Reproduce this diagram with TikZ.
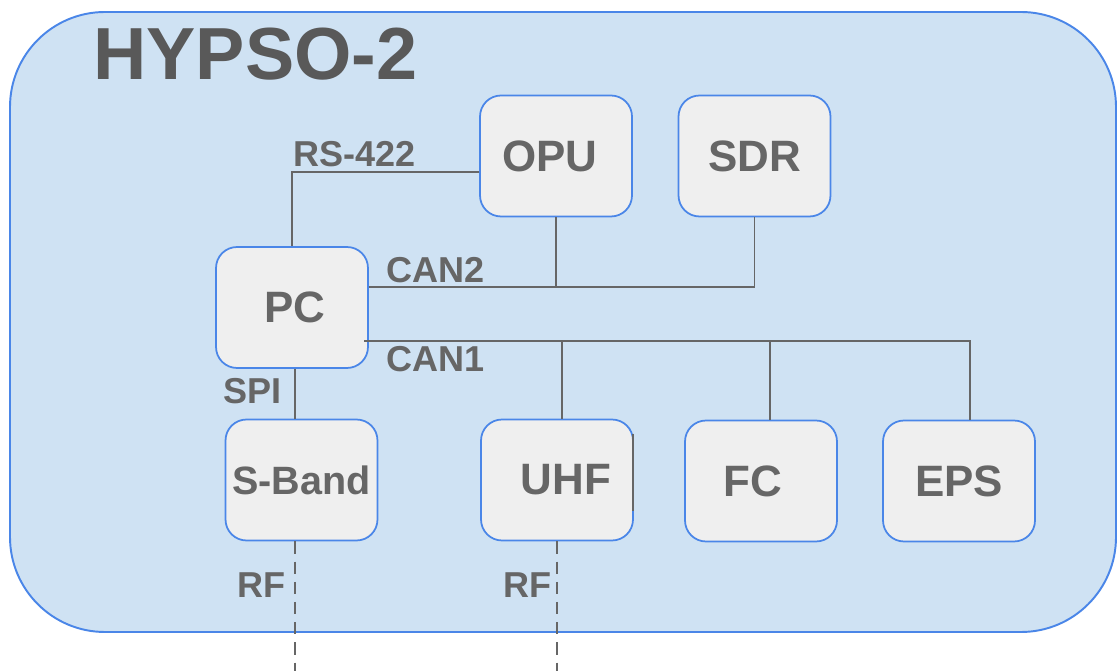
\documentclass[tikz,border=0pt]{standalone}
\usepackage{fontspec}
\setmainfont{Liberation Sans}
\usetikzlibrary{calc,positioning}
\definecolor{satfill}{HTML}{CFE2F3}
\definecolor{satedge}{HTML}{4A86E8}
\definecolor{boxfill}{HTML}{EFEFEF}
\definecolor{inkgray}{HTML}{666666}
\definecolor{titlegray}{HTML}{595959}
\newcommand{\boxfont}{\bfseries\fontsize{25}{30}\selectfont}
\newcommand{\busfont}{\bfseries\fontsize{20.5}{24}\selectfont}

\begin{document}
\begin{tikzpicture}[x=0.02cm, y=-0.02cm,
	unit/.style={draw=satedge, line width=1pt, fill=boxfill, rounded corners=0.42cm,
		minimum width=3.04cm, minimum height=2.42cm, inner sep=0pt,
		text=inkgray, font=\boxfont},
	bus/.style={draw=inkgray, line width=1pt},
	rflink/.style={bus, dash pattern=on 7pt off 4.5pt},
	buslabel/.style={anchor=base west, inner sep=0pt, text=inkgray, font=\busfont}]
	\useasboundingbox (0,0) rectangle (1118,671);
	% satellite outline
	\draw[satedge, line width=1.1pt, fill=satfill, rounded corners=1.9cm] (10,12) rectangle (1116,632);
	\node[anchor=base west, inner sep=0pt, text=titlegray, font=\bfseries\fontsize{42}{48}\selectfont] (title) at (93,80) {HYPSO-2};
	% subsystems
	\node[unit] (opu) at (556,156) {\hspace*{-0.24cm}OPU};
	\node[unit] (sdr) at (754.5,156) {SDR};
	\node[unit] (pc) at (292,307.5) {\hspace*{0.12cm}PC};
	\node[unit, font=\bfseries\fontsize{22.5}{27}\selectfont] (sband) at (301.5,480) {S-Band};
	\node[unit] (uhf) at (557,480) {\hspace*{0.36cm}UHF};
	\node[unit] (fc) at (761,481) {FC\hspace*{0.32cm}};
	\node[unit] (eps) at (959,481) {\raisebox{-0.16cm}{EPS}};
	\draw[bus] ([xshift=-0.02cm,yshift=-0.3cm]uhf.north east) -- ([xshift=-0.02cm,yshift=0.6cm]uhf.south east);
	% buses
	\coordinate (rsjoin) at (293,172);
	\coordinate (can2) at (368,287);
	\coordinate (can1) at (364,341);
	\draw[bus] (opu.west |- rsjoin) -| (pc.north);
	\draw[bus] (pc.east |- can2) -| (sdr.south);
	\draw[bus] (opu.south) -- (opu.south |- can2);
	\draw[bus] (can1) -| ([xshift=0.22cm]eps.north);
	\draw[bus] ([xshift=0.1cm]uhf.north |- can1) -- ([xshift=0.1cm]uhf.north);
	\draw[bus] ([xshift=0.18cm]fc.north |- can1) -- ([xshift=0.18cm]fc.north);
	\draw[bus] ([xshift=0.06cm]pc.south) -- ([xshift=0.06cm]pc.south |- sband.north);
	% radio links
	\coordinate (ant1) at (295,671);
	\coordinate (ant2) at (557,671);
	\draw[rflink] (ant1 |- sband.south) -- (ant1);
	\draw[rflink] (uhf.south) -- (ant2);
	% labels
	\node[buslabel] (rs) at (293,167) {RS-422};
	\node[buslabel] (can2lbl) at (386,283) {CAN2};
	\node[buslabel] (can1lbl) at (386,372) {CAN1};
	\node[buslabel] (spi) at (223,404) {SPI};
	\node[buslabel] (rf1) at (237,597) {RF};
	\node[buslabel] (rf2) at (503,597) {RF};
\end{tikzpicture}
\end{document}
